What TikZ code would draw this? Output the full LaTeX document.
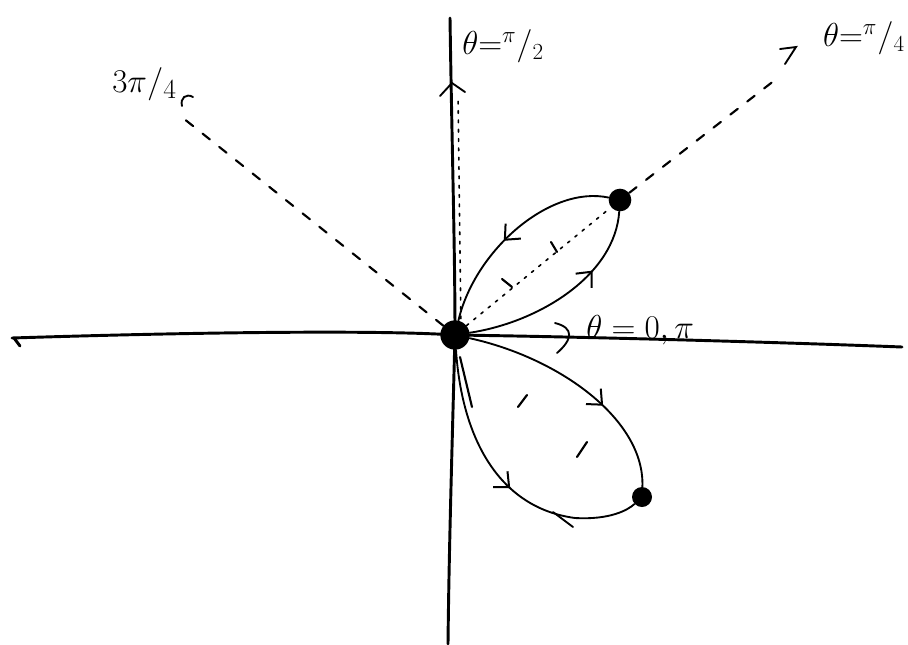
\documentclass[tikz,border=0pt]{standalone}
\usetikzlibrary{arrows.meta,decorations.markings}
\begin{document}
\begin{tikzpicture}[x=0.75pt,y=-0.75pt,
  axis/.style={line width=2.2pt, line cap=round},
  curve/.style={line width=1.4pt, line cap=round},
  guide/.style={line width=1.6pt, line cap=round, dash pattern=on 7pt off 9pt},
  fineguide/.style={line width=1.2pt, line cap=round, dash pattern=on 2pt off 5pt},
  tick/.style={line width=1.6pt, line cap=round},
  blob/.style={circle, fill=black, inner sep=0pt, minimum size=#1},
  lbl/.style={font=\fontsize{23}{25}\selectfont, inner sep=0pt},
  barb/.style={postaction={decorate}, decoration={markings,
    mark=at position #1 with {\arrow{Straight Barb[length=9pt,width=16pt,line width=1.5pt]}}}}
]
\useasboundingbox (0,0) rectangle (908,644);

% points
\coordinate (O) at (455,335);
\coordinate (xl) at (12,338);
\coordinate (xr) at (902,347);
\coordinate (yt) at (450,18);
\coordinate (yb) at (448,644);
\coordinate (g3) at (183,118);
\coordinate (g1) at (775,80);
\coordinate (gy) at (458,95);

% axes
\draw[axis] (xl) .. controls (200,332) and (380,330) .. (O) .. controls (600,337) and (800,343) .. (xr);
\draw[axis] (14,338) -- (20,346);
\draw[axis] (yt) .. controls (452,150) and (455,250) .. (O) .. controls (452,450) and (449,550) .. (yb);
\coordinate (ya) at (452,83);
\draw[curve] (440,96) -- (ya) -- (465,92);

% dots
\node[blob=22pt] (Od) at (O) {};
\node[blob=17pt] (D1) at (620,200) {};
\node[blob=15pt] (D2) at (642,497) {};

% guide lines
\draw[guide] (Od) -- (g3);
\draw[guide] (D1) -- (g1);
\draw[fineguide] (461,328) -- (gy);

% marks at the ends of the guides
\draw[curve] (182,106) .. controls (180,98) and (186,93) .. (193,97);
\draw[curve] (780,49) -- (796,47) -- (785,64);
\draw[curve] (555,323) .. controls (575,328) and (572,340) .. (557,353);

% upper lobe
\draw[curve, barb=0.68] (Od) .. controls (540,322) and (615,275) .. (D1);
\draw[curve, barb=0.56] (D1) .. controls (550,185) and (475,250) .. (Od);
\draw[fineguide] (Od) -- (D1);
\draw[tick] (502,279) -- (512,287);
\draw[tick] (551,242) -- (557,252);

% lower lobe
\draw[curve, barb=0.62] (Od) .. controls (560,358) and (645,420) .. (D2);
\draw[curve, barb=0.53] (Od) .. controls (462,440) and (500,508) .. (575,518) .. controls (610,520) and (628,510) .. (D2);
\draw[curve] (553,512) -- (573,527);
\draw[tick] (460,357) -- (472,407);
\draw[tick] (518,407) -- (527,395);
\draw[tick] (577,457) -- (587,442);

% labels
\node[lbl, anchor=west] (t2) at (462,46) {$\theta{=}{}^{\pi}/_{2}$};
\node[lbl, anchor=east] (t4) at (905,38) {$\theta{=}{}^{\pi}/_{4}$};
\node[lbl, font=\fontsize{28}{30}\selectfont, anchor=west] (t34) at (112,84) {$3\pi/_{4}$};
\node[lbl, anchor=west] (t0) at (586,330) {$\theta=0,\pi$};
\end{tikzpicture}
\end{document}
